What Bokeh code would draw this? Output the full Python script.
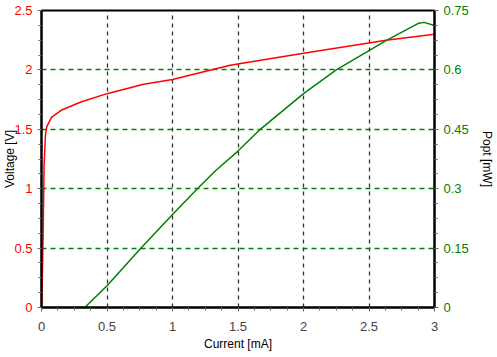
from bokeh.plotting import figure
from bokeh.models import Range1d, LinearAxis, SingleIntervalTicker, FixedTicker
from bokeh.embed import file_html
from bokeh.resources import INLINE
import numpy as np

# Voltage curve (left axis)
v_current = [0.0, 0.005, 0.012, 0.02, 0.03, 0.04, 0.076, 0.15, 0.30, 0.50, 0.78, 1.00, 1.44, 2.00, 2.63, 3.00]
v_voltage = [0.0, 0.18, 0.60, 1.20, 1.45, 1.52, 1.60, 1.66, 1.73, 1.80, 1.88, 1.92, 2.04, 2.14, 2.25, 2.30]
# Optical power curve (right axis)
p_current = [0.0, 0.33, 0.50, 0.76, 1.00, 1.19, 1.33, 1.50, 1.67, 2.00, 2.25, 2.63, 2.88, 2.92, 3.00]
p_power = [0.0, 0.0, 0.055, 0.15, 0.235, 0.30, 0.346, 0.395, 0.45, 0.54, 0.60, 0.674, 0.718, 0.72, 0.712]

right_ticks = [0, 0.15, 0.3, 0.45, 0.6, 0.75]

FONT = "Liberation Sans"
RED = "#ff0000"
GREEN = "#008000"

p = figure(width=497, height=357, output_backend="svg", toolbar_location=None,
           x_range=Range1d(0, 3), y_range=Range1d(0, 2.5),
           min_border_left=41, min_border_right=63, min_border_top=10, min_border_bottom=50)
p.extra_y_ranges = {"p": Range1d(0, 0.75)}

p.background_fill_color = "white"
p.border_fill_color = "white"
p.outline_line_color = "black"
p.outline_line_width = 2

# x axis
xa = p.xaxis[0]
xa.ticker = SingleIntervalTicker(interval=0.5, num_minor_ticks=4)
xa.axis_label = "Current [mA]"
# left axis
ya = p.yaxis[0]
ya.ticker = SingleIntervalTicker(interval=0.5, num_minor_ticks=4)
ya.axis_label = "Voltage [V]"
ya.major_label_text_color = RED

# right axis
ra = LinearAxis(y_range_name="p", axis_label="Popt [mW]")
ra.ticker = FixedTicker(ticks=right_ticks, minor_ticks=list(np.round(np.arange(0, 0.7501, 0.0375), 4)))
ra.major_label_text_color = GREEN
p.add_layout(ra, "right")

for ax in [xa, ya, ra]:
    ax.axis_line_color = "black"
    ax.axis_line_width = 2
    ax.major_tick_line_color = "#666666"
    ax.minor_tick_line_color = "#666666"
    ax.major_tick_in = 0
    ax.major_tick_out = 4
    ax.minor_tick_in = 0
    ax.minor_tick_out = 3
    ax.major_label_text_font = FONT
    ax.major_label_text_font_size = "13px"
    ax.axis_label_text_font = FONT
    ax.axis_label_text_font_size = "12px"
    ax.axis_label_text_font_style = "normal"
    ax.axis_label_text_color = "black"

xa.major_label_standoff = 10
xa.axis_label_standoff = 3
ya.major_label_standoff = 5
ya.axis_label_standoff = -6
ra.major_label_standoff = 5
ra.axis_label_standoff = 8

p.xgrid.grid_line_color = "#333333"
p.xgrid.grid_line_dash = "4 4"
p.xgrid.grid_line_width = 1.3
p.ygrid.grid_line_color = GREEN
p.ygrid.grid_line_dash = "5 4"
p.ygrid.grid_line_width = 1.5

p.line(v_current, v_voltage, line_color=RED, line_width=1.5)
p.line(p_current, p_power, line_color=GREEN, line_width=1.5, y_range_name="p")

open("out.html", "w").write(file_html(p, INLINE))
